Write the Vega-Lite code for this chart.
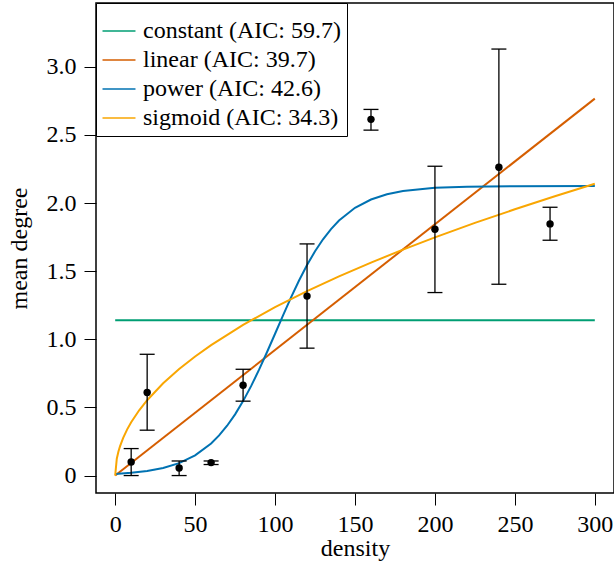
{
  "$schema": "https://vega.github.io/schema/vega-lite/v6.json",
  "width": 518,
  "height": 490,
  "autosize": {"type": "none"},
  "padding": {"left": 96, "top": 3, "right": 0, "bottom": 72},
  "background": "white",
  "datasets": {
    "pts": [
      {"density": 10, "mean": 0.10, "lo": 0.0, "hi": 0.198},
      {"density": 20, "mean": 0.61, "lo": 0.333, "hi": 0.89},
      {"density": 40, "mean": 0.056, "lo": 0.0, "hi": 0.107},
      {"density": 60, "mean": 0.095, "lo": 0.081, "hi": 0.107},
      {"density": 80, "mean": 0.663, "lo": 0.546, "hi": 0.78},
      {"density": 120, "mean": 1.317, "lo": 0.935, "hi": 1.70},
      {"density": 160, "mean": 2.614, "lo": 2.535, "hi": 2.687},
      {"density": 200, "mean": 1.807, "lo": 1.343, "hi": 2.27},
      {"density": 240, "mean": 2.262, "lo": 1.404, "hi": 3.13},
      {"density": 272, "mean": 1.847, "lo": 1.727, "hi": 1.969}
    ],
    "curves": [
      {"model": "constant (AIC: 59.7)", "density": 0, "degree": 1.14},
      {"model": "constant (AIC: 59.7)", "density": 300, "degree": 1.14},
      {"model": "linear (AIC: 39.7)", "density": 0, "degree": 0},
      {"model": "linear (AIC: 39.7)", "density": 300, "degree": 2.766},
      {"model": "power (AIC: 42.6)", "density": 0, "degree": 0.0123},
      {"model": "power (AIC: 42.6)", "density": 10, "degree": 0.0205},
      {"model": "power (AIC: 42.6)", "density": 20, "degree": 0.0339},
      {"model": "power (AIC: 42.6)", "density": 30, "degree": 0.0558},
      {"model": "power (AIC: 42.6)", "density": 40, "degree": 0.0914},
      {"model": "power (AIC: 42.6)", "density": 50, "degree": 0.148},
      {"model": "power (AIC: 42.6)", "density": 60, "degree": 0.2356},
      {"model": "power (AIC: 42.6)", "density": 65, "degree": 0.2947},
      {"model": "power (AIC: 42.6)", "density": 70, "degree": 0.3657},
      {"model": "power (AIC: 42.6)", "density": 75, "degree": 0.4493},
      {"model": "power (AIC: 42.6)", "density": 80, "degree": 0.5463},
      {"model": "power (AIC: 42.6)", "density": 85, "degree": 0.656},
      {"model": "power (AIC: 42.6)", "density": 90, "degree": 0.777},
      {"model": "power (AIC: 42.6)", "density": 95, "degree": 0.9066},
      {"model": "power (AIC: 42.6)", "density": 100, "degree": 1.0408},
      {"model": "power (AIC: 42.6)", "density": 105, "degree": 1.176},
      {"model": "power (AIC: 42.6)", "density": 110, "degree": 1.307},
      {"model": "power (AIC: 42.6)", "density": 115, "degree": 1.4314},
      {"model": "power (AIC: 42.6)", "density": 120, "degree": 1.5449},
      {"model": "power (AIC: 42.6)", "density": 125, "degree": 1.646},
      {"model": "power (AIC: 42.6)", "density": 130, "degree": 1.734},
      {"model": "power (AIC: 42.6)", "density": 135, "degree": 1.809},
      {"model": "power (AIC: 42.6)", "density": 140, "degree": 1.872},
      {"model": "power (AIC: 42.6)", "density": 150, "degree": 1.965},
      {"model": "power (AIC: 42.6)", "density": 160, "degree": 2.026},
      {"model": "power (AIC: 42.6)", "density": 170, "degree": 2.0645},
      {"model": "power (AIC: 42.6)", "density": 180, "degree": 2.0883},
      {"model": "power (AIC: 42.6)", "density": 200, "degree": 2.1116},
      {"model": "power (AIC: 42.6)", "density": 220, "degree": 2.1201},
      {"model": "power (AIC: 42.6)", "density": 250, "degree": 2.1239},
      {"model": "power (AIC: 42.6)", "density": 300, "degree": 2.1249},
      {"model": "sigmoid (AIC: 34.3)", "density": 0, "degree": 0},
      {"model": "sigmoid (AIC: 34.3)", "density": 1, "degree": 0.124},
      {"model": "sigmoid (AIC: 34.3)", "density": 2, "degree": 0.175},
      {"model": "sigmoid (AIC: 34.3)", "density": 3, "degree": 0.214},
      {"model": "sigmoid (AIC: 34.3)", "density": 5, "degree": 0.276},
      {"model": "sigmoid (AIC: 34.3)", "density": 7.5, "degree": 0.339},
      {"model": "sigmoid (AIC: 34.3)", "density": 10, "degree": 0.391},
      {"model": "sigmoid (AIC: 34.3)", "density": 15, "degree": 0.479},
      {"model": "sigmoid (AIC: 34.3)", "density": 20, "degree": 0.553},
      {"model": "sigmoid (AIC: 34.3)", "density": 30, "degree": 0.677},
      {"model": "sigmoid (AIC: 34.3)", "density": 40, "degree": 0.782},
      {"model": "sigmoid (AIC: 34.3)", "density": 50, "degree": 0.874},
      {"model": "sigmoid (AIC: 34.3)", "density": 60, "degree": 0.957},
      {"model": "sigmoid (AIC: 34.3)", "density": 80, "degree": 1.106},
      {"model": "sigmoid (AIC: 34.3)", "density": 100, "degree": 1.236},
      {"model": "sigmoid (AIC: 34.3)", "density": 120, "degree": 1.354},
      {"model": "sigmoid (AIC: 34.3)", "density": 140, "degree": 1.462},
      {"model": "sigmoid (AIC: 34.3)", "density": 160, "degree": 1.563},
      {"model": "sigmoid (AIC: 34.3)", "density": 180, "degree": 1.658},
      {"model": "sigmoid (AIC: 34.3)", "density": 200, "degree": 1.748},
      {"model": "sigmoid (AIC: 34.3)", "density": 225, "degree": 1.854},
      {"model": "sigmoid (AIC: 34.3)", "density": 250, "degree": 1.954},
      {"model": "sigmoid (AIC: 34.3)", "density": 275, "degree": 2.05},
      {"model": "sigmoid (AIC: 34.3)", "density": 300, "degree": 2.141}
    ]
  },
  "encoding": {
    "x": {
      "field": "density",
      "type": "quantitative",
      "scale": {"domain": [-12, 312], "nice": false, "zero": false},
      "axis": {"values": [0, 50, 100, 150, 200, 250, 300], "format": "d", "title": "density", "titlePadding": 0, "labelPadding": 7}
    }
  },
  "layer": [
    {
      "data": {"name": "curves"},
      "mark": {"type": "line", "strokeWidth": 2},
      "encoding": {
        "y": {
          "field": "degree",
          "type": "quantitative",
          "scale": {"domain": [-0.128, 3.468], "nice": false, "zero": false},
          "axis": {
            "values": [0, 0.5, 1, 1.5, 2, 2.5, 3],
            "labelExpr": "datum.value == 0 ? '0' : format(datum.value, '.1f')",
            "title": "mean degree",
            "titlePadding": 15,
            "labelPadding": 8
          }
        },
        "color": {
          "field": "model",
          "type": "nominal",
          "scale": {
            "domain": ["constant (AIC: 59.7)", "linear (AIC: 39.7)", "power (AIC: 42.6)", "sigmoid (AIC: 34.3)"],
            "range": ["#009E73", "#D55E00", "#0072B2", "#F9A602"]
          },
          "legend": {"title": " "}
        }
      }
    },
    {
      "data": {"name": "pts"},
      "mark": {"type": "rule", "color": "black", "strokeWidth": 1.3},
      "encoding": {
        "y": {"field": "lo", "type": "quantitative"},
        "y2": {"field": "hi"}
      }
    },
    {
      "data": {"name": "pts"},
      "mark": {"type": "tick", "orient": "horizontal", "color": "black", "size": 15, "thickness": 1.3, "opacity": 1},
      "encoding": {
        "y": {"field": "lo", "type": "quantitative"}
      }
    },
    {
      "data": {"name": "pts"},
      "mark": {"type": "tick", "orient": "horizontal", "color": "black", "size": 15, "thickness": 1.3, "opacity": 1},
      "encoding": {
        "y": {"field": "hi", "type": "quantitative"}
      }
    },
    {
      "data": {"name": "pts"},
      "mark": {"type": "circle", "color": "black", "size": 55, "opacity": 1},
      "encoding": {
        "y": {"field": "mean", "type": "quantitative"}
      }
    }
  ],
  "config": {
    "font": "Liberation Serif",
    "view": {"stroke": "black", "strokeWidth": 1.5},
    "axis": {
      "labelFont": "Liberation Serif",
      "labelFontSize": 24,
      "labelColor": "black",
      "titleFont": "Liberation Serif",
      "titleFontSize": 24,
      "titleFontWeight": "normal",
      "titleColor": "black",
      "tickColor": "black",
      "tickSize": 12,
      "tickWidth": 1,
      "domain": false,
      "grid": false
    },
    "legend": {
      "orient": "top-left",
      "offset": 0,
      "padding": 6,
      "fillColor": "white",
      "strokeColor": "black",
      "strokeWidth": 1,
      "labelFont": "Liberation Serif",
      "labelFontSize": 24,
      "labelColor": "black",
      "labelOffset": 12,
      "labelLimit": 400,
      "rowPadding": 5,
      "symbolType": "M-2,0H2",
      "symbolSize": 272,
      "symbolStrokeWidth": 1.5,
      "symbolOffset": 5,
      "titleFontSize": 9,
      "titlePadding": 1
    }
  }
}
